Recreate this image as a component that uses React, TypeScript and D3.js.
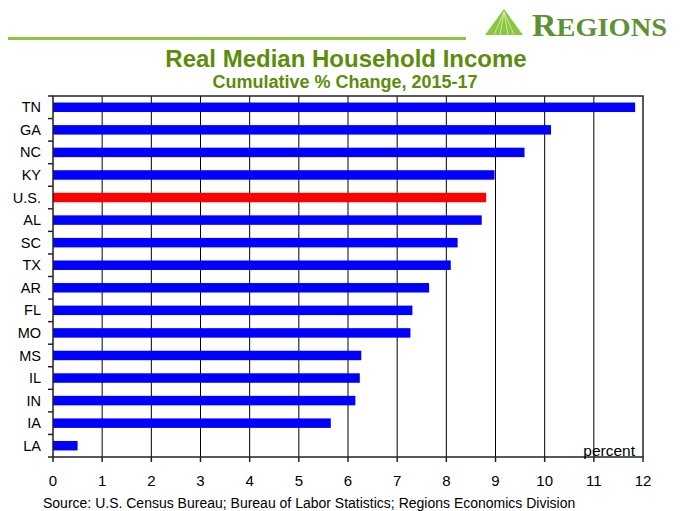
import React, { useMemo } from "react";
import * as d3 from "d3";

const WIDTH = 681;
const HEIGHT = 511;
const MARGIN = { top: 96, right: 38, bottom: 54, left: 53 };

const states = ["TN", "GA", "NC", "KY", "U.S.", "AL", "SC", "TX", "AR", "FL", "MO", "MS", "IL", "IN", "IA", "LA"];
const changes = [11.84, 10.13, 9.59, 8.98, 8.81, 8.72, 8.23, 8.09, 7.65, 7.31, 7.27, 6.27, 6.24, 6.15, 5.65, 0.5];
const xTicks = [0, 1, 2, 3, 4, 5, 6, 7, 8, 9, 10, 11, 12];

const GREEN = "#5b8c0a";
const FONT = "Arial, 'Liberation Sans', Helvetica, sans-serif";

const App = () => {
  const boundsWidth = WIDTH - MARGIN.left - MARGIN.right;
  const boundsHeight = HEIGHT - MARGIN.top - MARGIN.bottom;

  const xScale = useMemo(() => d3.scaleLinear().domain([0, 12]).range([0, boundsWidth]), [boundsWidth]);
  const yScale = useMemo(
    () => d3.scaleBand().domain(states).range([0, boundsHeight]).paddingInner(0.58).paddingOuter(0.29),
    [boundsHeight]
  );
  // category boundaries for the left tick marks
  const step = yScale.step();

  return (
    <svg width={WIDTH} height={HEIGHT} style={{ position: "absolute", left: 0, top: 0 }}>
      <rect width={WIDTH} height={HEIGHT} fill="#fff" />

      {/* header rule and logo */}
      <line x1={8} x2={466} y1={38.5} y2={38.5} stroke="#8cc63f" strokeWidth={3} />
      <polygon points="485,35 504,9 523,35" fill="#8cc63f" />
      <g stroke="#e8f5d4" strokeWidth={0.8} opacity={0.9}>
        <line x1={504} y1={12} x2={494} y2={35} />
        <line x1={504} y1={12} x2={500} y2={35} />
        <line x1={504} y1={12} x2={508} y2={35} />
        <line x1={504} y1={12} x2={514} y2={35} />
      </g>
      <text
        x={532}
        y={36}
        fill="#5e9134"
        fontFamily="'Liberation Serif', 'DejaVu Serif', serif"
        fontWeight="bold"
        textLength={135}
        lengthAdjust="spacingAndGlyphs"
      >
        <tspan fontSize={31}>R</tspan>
        <tspan fontSize={26}>EGIONS</tspan>
      </text>

      {/* titles */}
      <text x={346} y={67} textAnchor="middle" fill={GREEN} fontFamily={FONT} fontWeight="bold" fontSize={24}>
        Real Median Household Income
      </text>
      <text x={345} y={88} textAnchor="middle" fill={GREEN} fontFamily={FONT} fontWeight="bold" fontSize={18}>
        Cumulative % Change, 2015-17
      </text>

      <g transform={`translate(${MARGIN.left},${MARGIN.top})`}>
        {/* vertical grid */}
        {xTicks.slice(1, -1).map((t) => (
          <line key={t} x1={xScale(t)} x2={xScale(t)} y1={0} y2={boundsHeight} stroke="#000" strokeWidth={1} />
        ))}

        {/* bars */}
        {states.map((s, i) => (
          <rect
            key={s}
            x={xScale(0)}
            y={yScale(s)}
            width={xScale(changes[i]) - xScale(0)}
            height={yScale.bandwidth()}
            fill={s === "U.S." ? "#ff0000" : "#0000ff"}
          />
        ))}

        {/* frame */}
        <rect x={0} y={0} width={boundsWidth} height={boundsHeight} fill="none" stroke="#222" strokeWidth={1.5} />

        {/* left tick marks */}
        {d3.range(states.length + 1).map((i) => (
          <line key={i} x1={-5} x2={0} y1={i * step} y2={i * step} stroke="#222" strokeWidth={1.5} />
        ))}
        {/* bottom tick marks */}
        {xTicks.map((t) => (
          <line key={t} x1={xScale(t)} x2={xScale(t)} y1={boundsHeight} y2={boundsHeight + 5} stroke="#222" strokeWidth={1.5} />
        ))}

        {/* category labels */}
        {states.map((s) => (
          <text
            key={s}
            x={-12}
            y={(yScale(s) ?? 0) + yScale.bandwidth() / 2}
            dy="0.35em"
            textAnchor="end"
            fontFamily={FONT}
            fontSize={14.5}
            fill="#000"
          >
            {s}
          </text>
        ))}

        {/* x tick labels */}
        {xTicks.map((t) => (
          <text key={t} x={xScale(t)} y={boundsHeight + 29} textAnchor="middle" fontFamily={FONT} fontSize={15} fill="#000">
            {t}
          </text>
        ))}

        <text x={boundsWidth - 8} y={boundsHeight - 1} textAnchor="end" fontFamily={FONT} fontSize={15.5} fill="#000">
          percent
        </text>
      </g>

      <text x={43} y={508} fontFamily={FONT} fontSize={14} fill="#000">
        Source: U.S. Census Bureau; Bureau of Labor Statistics; Regions Economics Division
      </text>
    </svg>
  );
};

export default App;
